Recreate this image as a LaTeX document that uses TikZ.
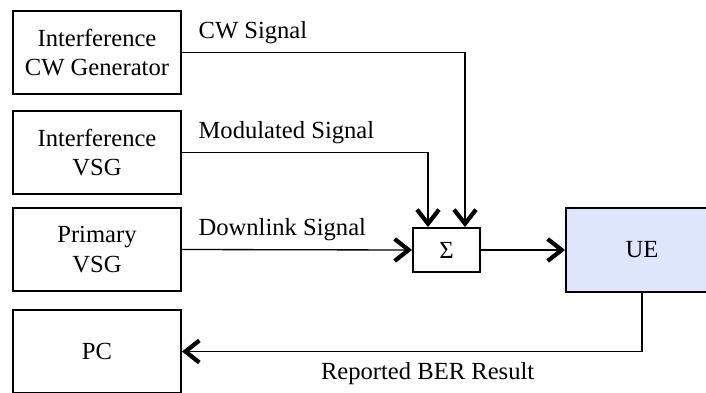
\documentclass[tikz,border=0pt]{standalone}
\usepackage{fontspec}
\setmainfont{Liberation Serif}
\usetikzlibrary{arrows.meta}
\definecolor{uefill}{RGB}{221,230,251}
\tikzset{
  >={Straight Barb[length=0.28cm,width=0.44cm,line width=2.4pt]},
  every node/.style={font=\fontsize{14}{17}\selectfont},
  block/.style={draw, line width=1.1pt, align=center,
                minimum width=3.36cm, minimum height=1.66cm},
  sumbox/.style={draw, line width=1.1pt, minimum width=1.34cm, minimum height=0.88cm},
  lbl/.style={inner sep=0pt},
  sig/.style={->, line width=0.75pt},
}

\begin{document}
\begin{tikzpicture}[x=0.02cm, y=-0.02cm]
      \clip (0,0) rectangle (706,392);

      \node[block]                       (cwgen) at (97,52.5)  {Interference\\CW Generator};
      \node[block]                       (ivsg)  at (97,152.5) {Interference\\VSG};
      \node[block]                       (pvsg)  at (97,249.5) {Primary\\VSG};
      \node[block]                       (pc)    at (97,351.5) {PC};
      \node[sumbox]                      (sum)   at (446.5,250) {Σ};
      \node[block, fill=uefill, minimum width=3.04cm, minimum height=1.68cm]
                                         (ue)    at (642,250)  {UE};

      \draw[sig] (cwgen.east) -| node[lbl,pos=0,anchor=south west,xshift=0.32cm,yshift=0.17cm]{CW Signal}
                 ([xshift=0.37cm]sum.north);
      \draw[sig] (ivsg.east)  -| node[lbl,pos=0,anchor=south west,xshift=0.32cm,yshift=0.17cm]{Modulated Signal}
                 ([xshift=-0.37cm]sum.north);
      \draw[sig] (pvsg.east)  -- node[lbl,pos=0,anchor=south west,xshift=0.32cm,yshift=0.17cm]{Downlink Signal}
                 (sum.west);
      \draw[sig] (sum.east)   -- (ue.west);
      \draw[sig] (ue.south)   |- node[lbl,pos=0.733,anchor=north,yshift=-0.2cm]{Reported BER Result}
                 (pc.east);
    \end{tikzpicture}
\end{document}
